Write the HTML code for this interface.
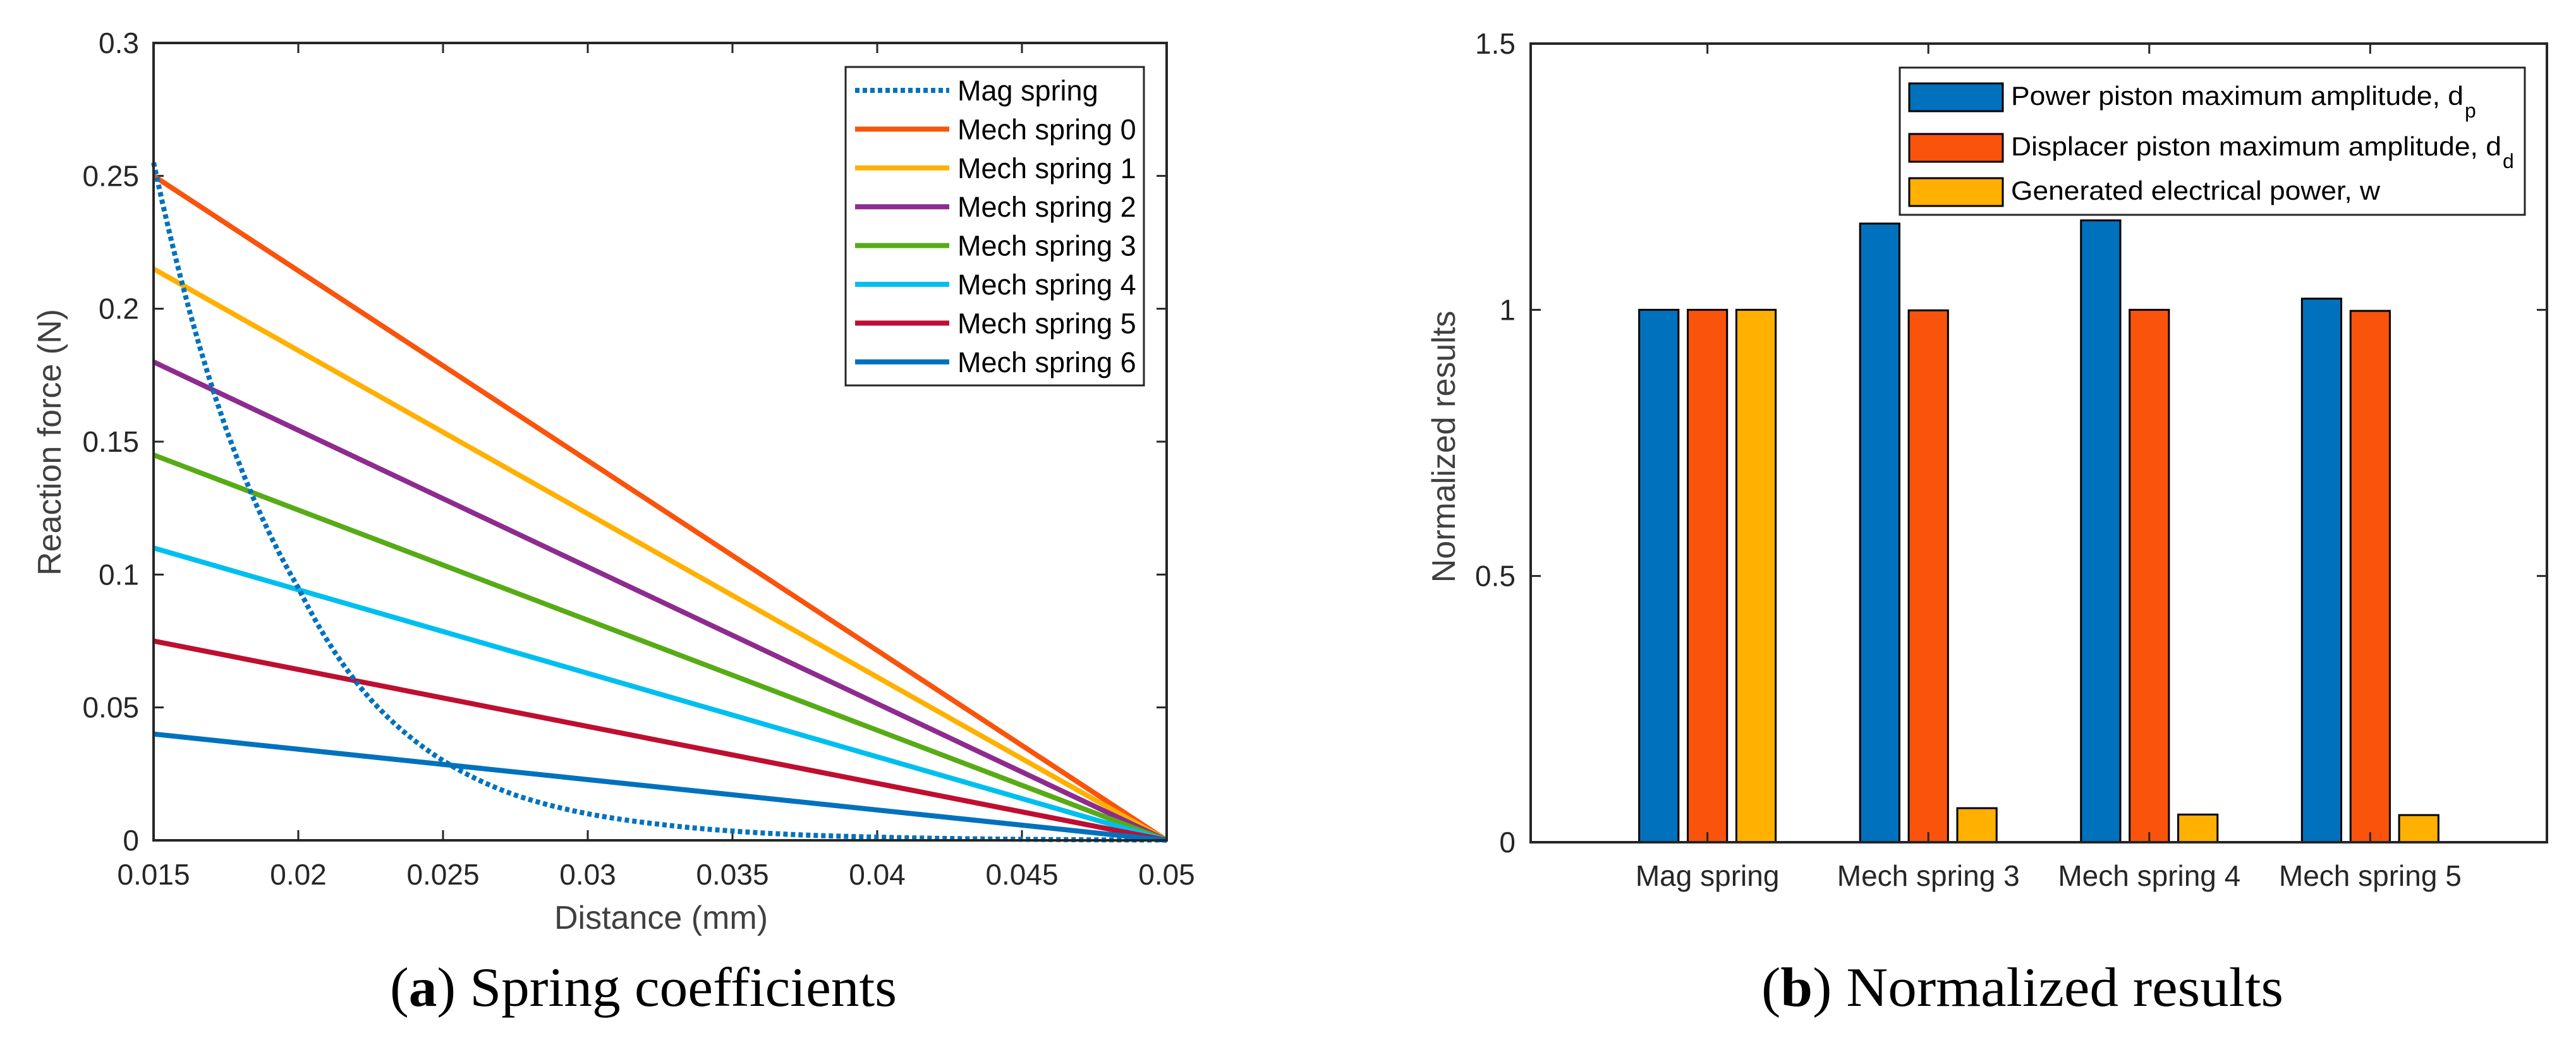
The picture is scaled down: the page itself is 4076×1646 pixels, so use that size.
<!DOCTYPE html>
<html><head><meta charset="utf-8"><style>
html,body{margin:0;padding:0;background:#fff;}
svg{display:block;}
</style></head><body>
<svg id="fig" width="4076" height="1646" viewBox="0 0 4076 1646" xmlns="http://www.w3.org/2000/svg" font-family="'Liberation Sans', Arial, sans-serif">
<g id="left"></g>
<g id="right"></g>
<text x="617" y="1592" font-family="'Liberation Serif', serif" font-size="88" textLength="802" lengthAdjust="spacingAndGlyphs">(<tspan font-weight="bold">a</tspan>) Spring coefficients</text>
<text x="2787" y="1592" font-family="'Liberation Serif', serif" font-size="88" textLength="826" lengthAdjust="spacingAndGlyphs">(<tspan font-weight="bold">b</tspan>) Normalized results</text>
</svg>
<script>
// ---- Left chart data ----
const xTicks = [0.015, 0.02, 0.025, 0.03, 0.035, 0.04, 0.045, 0.05];
const xTickLabels = ['0.015','0.02','0.025','0.03','0.035','0.04','0.045','0.05'];
const yTicks = [0, 0.05, 0.1, 0.15, 0.2, 0.25, 0.3];
const yTickLabels = ['0','0.05','0.1','0.15','0.2','0.25','0.3'];
const magX = [0.015,0.0175,0.02,0.0225,0.025,0.0275,0.03,0.0325,0.035,0.0375,0.04,0.0425,0.045,0.0475,0.05];
const magY = [0.255,0.155,0.095,0.053,0.030,0.017,0.010,0.006,0.0035,0.002,0.0012,0.0007,0.0004,0.0002,0.0001];
const mechNames = ['Mech spring 0','Mech spring 1','Mech spring 2','Mech spring 3','Mech spring 4','Mech spring 5','Mech spring 6'];
const mechStart = [0.25,0.215,0.18,0.145,0.11,0.075,0.04];
const mechEnd = [0,0,0,0,0,0,0];
const mechColors = ['#F9530C','#FFB000','#8E2B8E','#57AB16','#00BFEF','#BF0E30','#0072BD'];

// ---- Right chart data ----
const categories = ['Mag spring','Mech spring 3','Mech spring 4','Mech spring 5'];
const powerAmp = [1.0, 1.162, 1.168, 1.021];
const dispAmp = [1.0, 0.999, 1.0, 0.998];
const elecPower = [1.0, 0.064, 0.052, 0.051];
const yTicksR = [0, 0.5, 1, 1.5];
const yTickLabelsR = ['0','0.5','1','1.5'];

const NS = 'http://www.w3.org/2000/svg';
function mk(parent, tag, attrs, text){
  const e = document.createElementNS(NS, tag);
  for (const k in attrs) e.setAttribute(k, attrs[k]);
  if (text !== undefined) e.textContent = text;
  parent.appendChild(e);
  return e;
}
const AX = '#262626';

// ===== Left chart =====
const L = document.getElementById('left');
const lx0=243, lx1=1846, ly0=1330, ly1=68;
const sx = v => lx0 + (v-0.015)/(0.05-0.015)*(lx1-lx0);
const sy = v => ly0 - v/0.3*(ly0-ly1);

xTicks.forEach((t,i)=>{
  const x = sx(t);
  let tk = mk(L,'path',{d:`M${x},${ly0}V${ly0-16}M${x},${ly1}V${ly1+16}`,stroke:AX,'stroke-width':3});
  
  
  let lb = mk(L,'text',{x:x,y:1400,'text-anchor':'middle','font-size':46,fill:AX},xTickLabels[i]);
  
  
});
yTicks.forEach((t,i)=>{
  const y = sy(t);
  let tk = mk(L,'path',{d:`M${lx0},${y}H${lx0+16}M${lx1},${y}H${lx1-16}`,stroke:AX,'stroke-width':3});
  
  
  let lb = mk(L,'text',{x:220,y:y+16,'text-anchor':'end','font-size':46,fill:AX},yTickLabels[i]);
  
  
});

// mech lines
mechStart.forEach((v,i)=>{
  let ln = mk(L,'line',{x1:sx(0.015),y1:sy(v),x2:sx(0.05),y2:sy(mechEnd[i]),stroke:mechColors[i],'stroke-width':8});
  
  
});
// mag spring (log-linear interpolation between data points)
let d='';
for (let i=0;i<magX.length;i++){
  if(i===0){ d+=`M${sx(magX[0])},${sy(magY[0])}`; continue; }
  const n=8;
  for(let k=1;k<=n;k++){
    const f=k/n;
    const xv=magX[i-1]+(magX[i]-magX[i-1])*f;
    const yv=Math.exp(Math.log(magY[i-1])+(Math.log(magY[i])-Math.log(magY[i-1]))*f);
    d+=`L${sx(xv)},${sy(yv)}`;
  }
}
let mg = mk(L,'path',{d:d,fill:'none',stroke:'#0072BD','stroke-width':8,'stroke-dasharray':'7 5'});



let fr = mk(L,'rect',{x:lx0,y:ly1,width:lx1-lx0,height:ly0-ly1,fill:'none',stroke:AX,'stroke-width':4});



let xl = mk(L,'text',{x:1046,y:1470,'text-anchor':'middle','font-size':52,fill:'#404040'},'Distance (mm)');


let yl = mk(L,'text',{x:0,y:0,'text-anchor':'middle','font-size':52,fill:'#404040',transform:'translate(96,700) rotate(-90)'},'Reaction force (N)');



// legend
const lg = mk(L,'g',{});


mk(lg,'rect',{x:1338,y:106,width:472,height:504,fill:'#fff',stroke:AX,'stroke-width':3});
const legNames = ['Mag spring'].concat(mechNames);
const legColors = ['#0072BD'].concat(mechColors);
legNames.forEach((nm,i)=>{
  const y = 143 + i*61.4;
  const le = mk(lg,'g',{});
  
  
  const a = {x1:1353,y1:y,x2:1502,y2:y,stroke:legColors[i],'stroke-width':8};
  if(i===0) a['stroke-dasharray']='7 5';
  mk(le,'line',a);
  mk(le,'text',{x:1515,y:y+16,'font-size':45,fill:'#000'},nm);
});

// ===== Right chart =====
const R = document.getElementById('right');
const rx0=2422, rx1=4030, ry0=1333, ry1=69;
const xmin=0.2, xmax=4.8;
const bx = v => rx0 + (v-xmin)/(xmax-xmin)*(rx1-rx0);
const by = v => ry0 - v/1.5*(ry0-ry1);
const barW = 0.178, off = 0.22;
const series = [powerAmp, dispAmp, elecPower];
const sColors = ['#0072BD','#F9530C','#FFB000'];
const sNames = ['power-amplitude','displacer-amplitude','electrical-power'];

series.forEach((vals,s)=>{
  vals.forEach((v,i)=>{
    const c = (i+1) + (s-1)*off;
    const x = bx(c-barW/2), w = bx(c+barW/2)-x;
    let r = mk(R,'rect',{x:x,y:by(v),width:w,height:by(0)-by(v),fill:sColors[s],stroke:'#000','stroke-width':3});
    
    
  });
});
categories.forEach((c,i)=>{
  const x = bx(i+1);
  let tk = mk(R,'path',{d:`M${x},${ry0}V${ry0-16}M${x},${ry1}V${ry1+16}`,stroke:AX,'stroke-width':3});
  
  
  let lb = mk(R,'text',{x:x,y:1402,'text-anchor':'middle','font-size':46,fill:AX},c);
  
  
});
yTicksR.forEach((t,i)=>{
  const y = by(t);
  let tk = mk(R,'path',{d:`M${rx0},${y}H${rx0+16}M${rx1},${y}H${rx1-16}`,stroke:AX,'stroke-width':3});
  
  
  let lb = mk(R,'text',{x:2398,y:y+16,'text-anchor':'end','font-size':46,fill:AX},yTickLabelsR[i]);
  
  
});
let fr2 = mk(R,'rect',{x:rx0,y:ry1,width:rx1-rx0,height:ry0-ry1,fill:'none',stroke:AX,'stroke-width':4});


let yl2 = mk(R,'text',{x:0,y:0,'text-anchor':'middle','font-size':52,fill:'#404040',transform:'translate(2302,707) rotate(-90)'},'Normalized results');



const lg2 = mk(R,'g',{});


mk(lg2,'rect',{x:3006,y:107,width:989,height:233,fill:'#fff',stroke:AX,'stroke-width':3});
const legRows = [153,233,303];
const legTexts = [['Power piston maximum amplitude, d','p',716],['Displacer piston maximum amplitude, d','d',776],['Generated electrical power, w','',584]];
legTexts.forEach((t,i)=>{
  const y = legRows[i];
  const le = mk(lg2,'g',{});
  
  
  mk(le,'rect',{x:3021,y:y-21,width:148,height:44,fill:sColors[i],stroke:'#000','stroke-width':3});
  mk(le,'text',{x:3182,y:y+13,'font-size':42,fill:'#000',textLength:t[2],lengthAdjust:'spacingAndGlyphs'},t[0]);
  if(t[1]) mk(le,'text',{x:3182+t[2]+2,y:y+33,'font-size':32,fill:'#000'},t[1]);
});
</script>
</body></html>
